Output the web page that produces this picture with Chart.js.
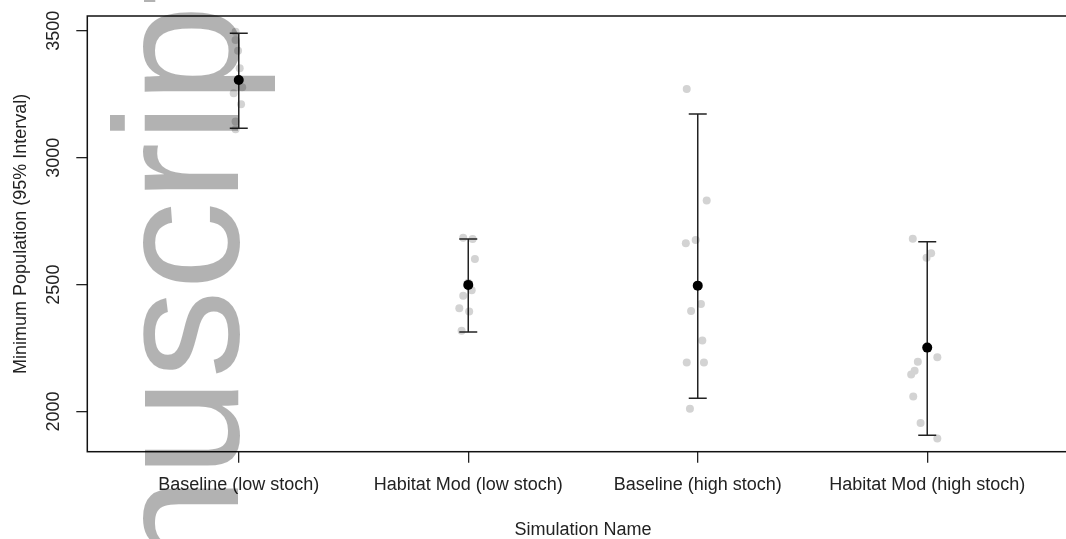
<!DOCTYPE html>
<html>
<head>
<meta charset="utf-8">
<title>Minimum Population (95% Interval)</title>
<script src="https://cdn.jsdelivr.net/npm/chart.js@4"></script>
<style>
  html, body { margin: 0; padding: 0; background: #fff; overflow: hidden; }
  #wrap { width: 1090px; height: 539px; }
</style>
</head>
<body>
<div id="wrap"><canvas id="chart" width="1090" height="539"></canvas></div>
<script>
// simulations on the x axis
const categories = ['Baseline (low stoch)', 'Habitat Mod (low stoch)', 'Baseline (high stoch)', 'Habitat Mod (high stoch)']
const yTicks = [2000, 2500, 3000, 3500]

// mean and 95% interval per simulation
const means = [3306, 2499, 2496, 2252]
const lower = [3116, 2313, 2053, 1907]
const upper = [3490, 2680, 3172, 2669]

// single runs (x is the jittered position)
const runsX = [
  [0.986, 0.986, 0.997, 1.004, 1.015, 0.978, 1.010, 0.986, 0.986, 1.000],
  [1.978, 2.019, 2.029, 2.015, 1.978, 1.961, 2.004, 1.971, 2.000, 2.005],
  [2.952, 3.039, 2.991, 2.948, 3.014, 2.971, 3.020, 2.952, 3.027, 2.966],
  [3.937, 4.017, 3.997, 4.044, 3.959, 3.945, 3.930, 3.939, 3.971, 4.044]
]
const runsY = [
  [3496, 3463, 3421, 3352, 3277, 3254, 3210, 3142, 3112, 3306],
  [2685, 2680, 2601, 2478, 2456, 2407, 2394, 2318, 2507, 2491],
  [3270, 2831, 2676, 2663, 2424, 2396, 2280, 2193, 2193, 2011],
  [2681, 2624, 2606, 2214, 2196, 2161, 2146, 2059, 1955, 1894]
]

const FONT = '"Liberation Sans", Arial, sans-serif'
const INK = '#222'
Chart.defaults.font.family = FONT

const runPoints = []
runsY.forEach((ys, g) => ys.forEach((y, i) => runPoints.push({ x: runsX[g][i], y: y })))

// box around the plot region, like R's box()
const frame = {
  id: 'frame',
  afterDatasetsDraw(chart) {
    const { ctx, chartArea: a } = chart
    ctx.save()
    ctx.strokeStyle = '#111'
    ctx.lineWidth = 1.5
    ctx.strokeRect(a.left, a.top, a.right - a.left, a.bottom - a.top)
    ctx.restore()
  }
}

// the grey "Manuscript" stamp laid over the page
const stamp = {
  id: 'stamp',
  afterDraw(chart) {
    const ctx = chart.ctx
    ctx.save()
    ctx.fillStyle = 'rgba(0,0,0,0.3)'
    ctx.font = '177px ' + FONT
    ctx.textBaseline = 'alphabetic'
    ctx.translate(238, 103.3)
    ctx.rotate(-Math.PI / 2)
    ctx.textAlign = 'right'
    ctx.fillText('Manuscri', 0, 0)
    ctx.textAlign = 'left'
    ctx.fillText('pt', 0, 0)
    ctx.restore()
  }
}

new Chart(document.getElementById('chart'), {
  type: 'scatter',
  data: {
    datasets: [
      {
        label: 'Mean',
        data: means.map((m, i) => ({ x: i + 1, y: m })),
        pointRadius: 5,
        pointBackgroundColor: '#000',
        pointBorderWidth: 0,
        order: 0
      },
      ...categories.map((c, i) => ({
        label: c,
        data: [{ x: i + 1, y: lower[i] }, { x: i + 1, y: upper[i] }],
        showLine: true,
        borderColor: INK,
        borderWidth: 1.5,
        pointStyle: 'line',
        pointRadius: 9,
        pointBorderColor: INK,
        pointBorderWidth: 1.5,
        order: 1
      })),
      {
        label: 'Runs',
        data: runPoints,
        pointRadius: 4,
        pointBackgroundColor: '#d3d3d3',
        pointBorderWidth: 0,
        order: 2
      }
    ]
  },
  options: {
    responsive: false,
    animation: false,
    devicePixelRatio: 1,
    layout: { padding: { left: 0, top: 16, right: 11.3, bottom: 0 } },
    plugins: { legend: { display: false }, tooltip: { enabled: false } },
    scales: {
      x: {
        type: 'linear',
        min: 0.34,
        max: 4.66,
        afterBuildTicks: s => { s.ticks = categories.map((c, i) => ({ value: i + 1 })) },
        afterFit: s => { s.height = 87.3 },
        ticks: {
          autoSkip: false, minRotation: 0, maxRotation: 0, padding: 12,
          color: INK, font: { size: 18 },
          callback: v => categories[Math.round(v) - 1]
        },
        grid: { drawOnChartArea: false, drawTicks: true, tickLength: 11, color: INK, lineWidth: 1.3 },
        border: { display: false },
        title: {
          display: true, text: 'Simulation Name', color: INK,
          font: { size: 18, lineHeight: 1 }, padding: { top: 0, bottom: 0 }
        }
      },
      y: {
        min: 1842,
        max: 3558,
        afterBuildTicks: s => { s.ticks = yTicks.map(v => ({ value: v })) },
        afterFit: s => { s.width = 87.3 },
        ticks: {
          minRotation: 90, maxRotation: 90, crossAlign: 'center', padding: 2,
          color: INK, font: { size: 18 },
          callback: v => String(v)
        },
        grid: { drawOnChartArea: false, drawTicks: true, tickLength: 11, color: INK, lineWidth: 1.3 },
        border: { display: false },
        title: {
          display: true, text: 'Minimum Population (95% Interval)', color: INK,
          font: { size: 18, lineHeight: 1.2 }, padding: { top: 10, bottom: 0 }
        }
      }
    }
  },
  plugins: [frame, stamp]
})
</script>
</body>
</html>
